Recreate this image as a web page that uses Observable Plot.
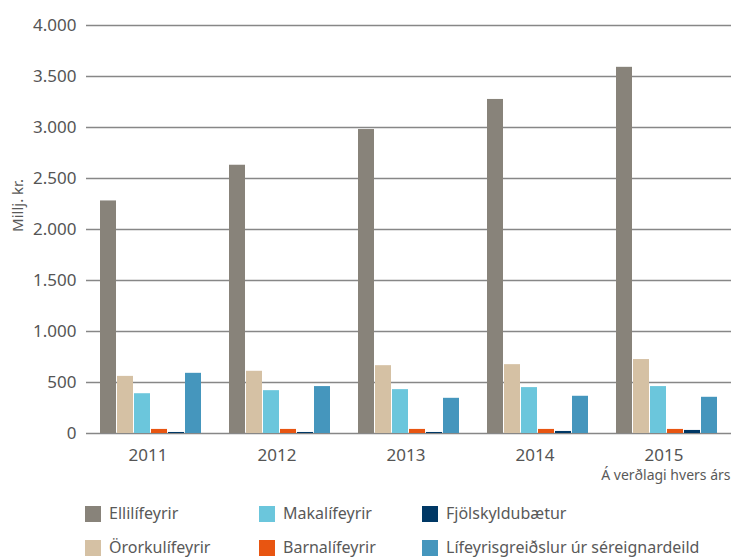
<!DOCTYPE html>
<html>
<head>
<meta charset="utf-8">
<script src="https://cdn.jsdelivr.net/npm/d3@7"></script>
<script src="https://cdn.jsdelivr.net/npm/@observablehq/plot@0.6"></script>
<style>
  html, body { margin: 0; padding: 0; background: #fff; }
  #wrap { position: relative; width: 732px; height: 560px; font-family: "Noto Sans", sans-serif; color: #595959; }
  #chart svg { display: block; }
  .item { position: absolute; font-size: 16px; line-height: 16px; white-space: nowrap; }
  .sw { position: absolute; width: 16px; height: 16px; left: 0; top: 0; }
  .lab { position: absolute; left: 24px; top: -1px; }
</style>
</head>
<body>
<div id="wrap">
  <div id="chart"></div>
  <div id="legend"></div>
</div>
<script>
const years = ["2011", "2012", "2013", "2014", "2015"];
const series = ["Ellilífeyrir", "Örorkulífeyrir", "Makalífeyrir", "Barnalífeyrir", "Fjölskyldubætur", "Lífeyrisgreiðslur úr séreignardeild"];
const colors = ["#88837a", "#d5c1a4", "#6bc6dc", "#e85511", "#003865", "#4596bd"];

const ellilifeyrir     = [2280, 2630, 2980, 3275, 3590];
const ororkulifeyrir   = [560, 610, 665, 675, 725];
const makalifeyrir     = [390, 420, 430, 450, 460];
const barnalifeyrir    = [40, 40, 40, 40, 40];
const fjolskyldubaetur = [10, 10, 10, 20, 30];
const sereign          = [590, 460, 345, 365, 355];

const yTicks = [0, 500, 1000, 1500, 2000, 2500, 3000, 3500, 4000];
const yLabel = "Millj. kr.";
const note = "Á verðlagi hvers árs";

const valuesBySeries = [ellilifeyrir, ororkulifeyrir, makalifeyrir, barnalifeyrir, fjolskyldubaetur, sereign];
const data = [];
years.forEach((yr, i) => {
  series.forEach((s, j) => data.push({year: yr, series: s, value: valuesBySeries[j][i]}));
});

const fmt = d => d3.format(",")(d).replace(/,/g, ".");

// half of the gap between facets (band step 129.2, bandwidth 103.36)
const halfGap = 13;

const chart = Plot.plot({
  width: 732,
  height: 492,
  marginLeft: 86,
  marginRight: 0,
  marginTop: 25,
  marginBottom: 59,
  style: {fontFamily: "'Noto Sans', sans-serif", fontSize: "16px", color: "#595959", background: "#fff"},
  fx: {domain: years, paddingInner: 0.2, paddingOuter: 0.1, label: null},
  x: {domain: series, paddingInner: 0.07, paddingOuter: 0, axis: null},
  y: {domain: [0, 4000], label: null},
  color: {domain: series, range: colors},
  marks: [
    Plot.ruleY(yTicks, {stroke: "#878787", strokeWidth: 1.6, insetLeft: -halfGap, insetRight: -halfGap}),
    Plot.barY(data, {fx: "year", x: "series", y: "value", fill: "series"}),
    Plot.axisY(yTicks, {tickSize: 0, tickPadding: 23, tickFormat: fmt, label: null, fontSize: 17, fill: "#555"}),
    Plot.axisFx({anchor: "bottom", tickSize: 0, tickPadding: 15, dx: -3, label: null, fontSize: 17, fill: "#555"}),
    Plot.text([yLabel], {frameAnchor: "left", rotate: -90, textAnchor: "middle", lineAnchor: "middle", dx: -81, dy: -24, facet: "super", fontSize: 15, fill: "#595959"}),
    Plot.text([note], {frameAnchor: "bottom-right", textAnchor: "end", lineAnchor: "bottom", dx: 12, dy: 46, facet: "super", fontSize: 14, fill: "#595959"})
  ]
});
document.getElementById("chart").appendChild(chart);

// Legend: column-major, 2 rows x 3 columns
const colX = [85, 259, 422];
const rowY = [506, 540];
const legend = document.getElementById("legend");
series.forEach((s, i) => {
  const col = Math.floor(i / 2), row = i % 2;
  const item = document.createElement("div");
  item.className = "item";
  item.style.left = colX[col] + "px";
  item.style.top = rowY[row] + "px";
  const sw = document.createElement("div");
  sw.className = "sw";
  sw.style.background = colors[i];
  const lab = document.createElement("span");
  lab.className = "lab";
  lab.textContent = s;
  item.appendChild(sw);
  item.appendChild(lab);
  legend.appendChild(item);
});
</script>
</body>
</html>
